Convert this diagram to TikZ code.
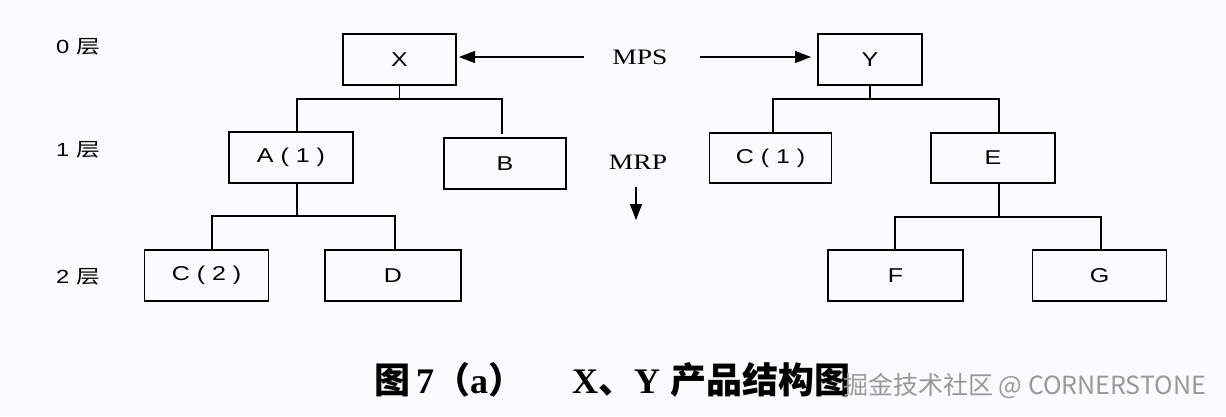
\documentclass[tikz,border=0pt]{standalone}
\usepackage{fontspec}
\setmainfont{Liberation Serif}
\newfontfamily\cjk{Noto Sans CJK SC}
\newfontfamily\boxf{Liberation Sans}
\usetikzlibrary{arrows.meta}
\definecolor{bgc}{RGB}{250,251,253}
\newcommand{\hs}[1]{\scalebox{1.25}[1]{#1}}
\tikzset{
  part/.style={draw, line width=1.5pt, inner sep=0pt, font=\boxf\fontsize{20}{20}\selectfont},
  link/.style={line width=1.5pt},
  arr/.style={line width=1.2pt, -{Triangle[length=16pt,width=12pt]}},
  lay/.style={inner sep=0pt, font=\fontsize{19}{19}\selectfont},
  lab/.style={inner sep=0pt, font=\fontsize{22}{22}\selectfont}
}
\begin{document}
\begin{tikzpicture}[x=1pt,y=-1pt]
\fill[bgc] (0,0) rectangle (1226,416);
\useasboundingbox (0,0) rectangle (1226,416);
% layer labels
\node[lay] (l0) at (78,47) {\hs{\boxf 0 \cjk 层}};
\node[lay] (l1) at (78,150) {\hs{\boxf 1 \cjk 层}};
\node[lay] (l2) at (78,277) {\hs{\boxf 2 \cjk 层}};
% boxes
\node[part, minimum width=113pt, minimum height=51pt] (X) at (399.5,59.5) {\hs{X}};
\node[part, minimum width=104pt, minimum height=51pt] (Y) at (870,59.5) {\hs{Y}};
\node[part, minimum width=124pt, minimum height=51pt] (A) at (291,157.5) {\hs{A ( 1 )}};
\node[part, minimum width=122pt, minimum height=51pt] (B) at (505,163.5) {\hs{B}};
\node[part, minimum width=122pt, minimum height=50pt] (C1) at (770.5,158) {\hs{C ( 1 )}};
\node[part, minimum width=124pt, minimum height=50pt] (E) at (993,158) {\hs{E}};
\node[part, minimum width=124pt, minimum height=51pt] (C2) at (206.5,275.5) {\hs{C ( 2 )}};
\node[part, minimum width=136pt, minimum height=51pt] (D) at (393,275.5) {\hs{D}};
\node[part, minimum width=135pt, minimum height=51pt] (F) at (895.5,275.5) {\hs{F}};
\node[part, minimum width=134pt, minimum height=51pt] (G) at (1099.5,275.5) {\hs{G}};
% MPS / MRP
\node[lab] (mps) at (640,57) {\hs{MPS}};
\node[lab] (mrp) at (638,162) {\hs{MRP}};
\coordinate (mpsl) at (584,57);
\coordinate (mpsr) at (700,57);
\coordinate (xt) at (459,57);
\coordinate (yt) at (811,57);
\coordinate (d0) at (636,187);
\coordinate (d1) at (636,220);
\draw[arr] (mpsl) -- (xt);
\draw[arr] (mpsr) -- (yt);
\draw[arr] (d0) -- (d1);
% left tree
\coordinate (xa) at (297,99);
\coordinate (xb) at (502,99);
\coordinate (bt) at (502,134);
\coordinate (ad) at (297,216);
\coordinate (c2b) at (212,216);
\coordinate (db) at (395,216);
\draw[link] (X.south) -- (X.south |- xa);
\draw[link] (A.north -| xa) -- (xa) -- (xb) -- (bt);
\draw[link] (A.south -| ad) -- (ad);
\draw[link] (C2.north -| c2b) -- (c2b) -- (db) -- (D.north -| db);
% right tree
\coordinate (ya) at (773,99);
\coordinate (yb) at (999,99);
\coordinate (ed) at (999,217);
\coordinate (fb) at (895,217);
\coordinate (gb) at (1101,217);
\draw[link] (Y.south) -- (Y.south |- ya);
\draw[link] (C1.north -| ya) -- (ya) -- (yb) -- (E.north -| yb);
\draw[link] (E.south -| ed) -- (ed);
\draw[link] (F.north -| fb) -- (fb) -- (gb) -- (G.north -| gb);
% caption
\node[inner sep=0pt, anchor=west, font=\fontsize{36}{36}\selectfont\bfseries] (cap1) at (374,380)
  {{\cjk 图}\,7{\cjk （}a{\cjk ）}};
\node[inner sep=0pt, anchor=west, font=\fontsize{36}{36}\selectfont\bfseries] (cap2) at (572,380)
  {X{\cjk 、}Y\hspace{10pt}{\cjk 产品结构图}};
% watermark
\node[inner sep=0pt, anchor=west, text=gray!80, font=\cjk\fontsize{25}{25}\selectfont] (wm) at (843,386)
  {掘金技术社区 @ CORNERSTONE};
\end{tikzpicture}
\end{document}
